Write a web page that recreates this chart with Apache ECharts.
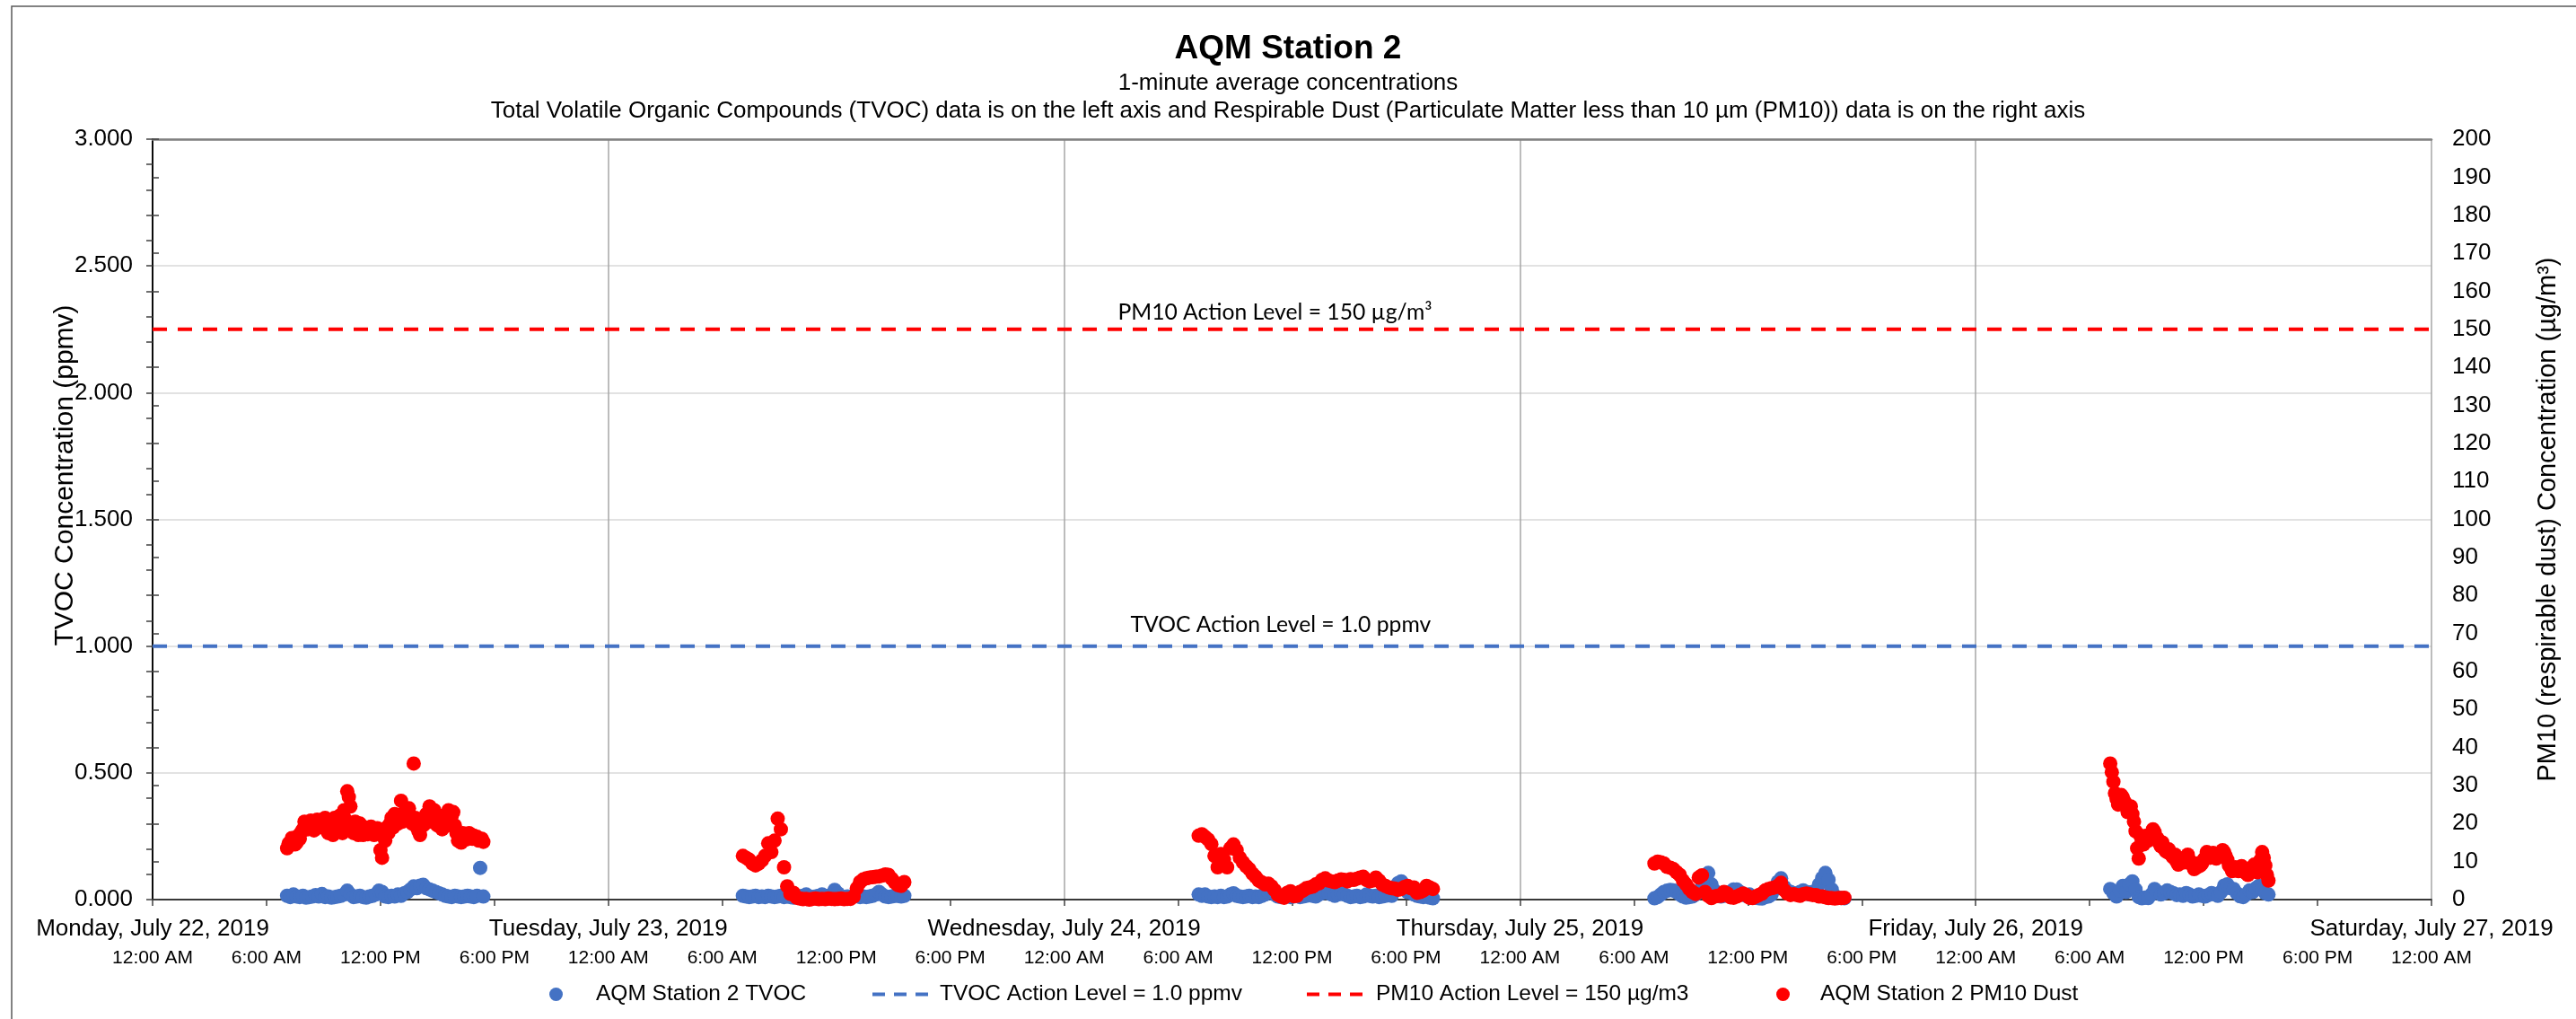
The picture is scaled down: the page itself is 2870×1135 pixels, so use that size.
<!DOCTYPE html>
<html>
<head>
<meta charset="utf-8">
<title>AQM Station 2</title>
<script src="https://cdn.jsdelivr.net/npm/echarts@6/dist/echarts.min.js"></script>
<style>
  html, body { margin: 0; padding: 0; background: #fff; }
  #main { width: 2870px; height: 1135px; }
</style>
</head>
<body>
<div id="main"></div>
<script>
  // axis labels
  var dayLabels = ['Monday, July 22, 2019', 'Tuesday, July 23, 2019', 'Wednesday, July 24, 2019',
    'Thursday, July 25, 2019', 'Friday, July 26, 2019', 'Saturday, July 27, 2019'];
  var timeLabels = ['12:00 AM', '6:00 AM', '12:00 PM', '6:00 PM'];

  // every day the station starts logging at 7:05 AM, values read every 10 minutes
  var startHour = 7 + 5 / 60;
  var stepMinutes = 10;

  // action levels
  var tvocAction = 1.0;   // ppmv, left axis
  var pm10Action = 150;   // ug/m3, right axis

  // TVOC (ppmv)
  var tvocMon = [0.015, 0.01, 0.02, 0.012, 0.01, 0.015, 0.008, 0.01, 0.012, 0.018,
    0.012, 0.022, 0.01, 0.012, 0.008, 0.01, 0.012, 0.015, 0.02, 0.035,
    0.02, 0.01, 0.012, 0.015, 0.01, 0.008, 0.012, 0.015, 0.02, 0.035,
    0.03, 0.012, 0.01, 0.015, 0.012, 0.02, 0.015, 0.025, 0.03, 0.04,
    0.052, 0.045, 0.055, 0.058, 0.045, 0.04, 0.035, 0.03, 0.025, 0.02,
    0.015, 0.012, 0.01, 0.015, 0.012, 0.01, 0.012, 0.015, 0.012, 0.01,
    0.015, 0.125, 0.012];
  var tvocTue = [0.015, 0.012, 0.01, 0.012, 0.015, 0.01, 0.012, 0.01, 0.015, 0.012,
    0.01, 0.012, 0.015, 0.01, 0.012, 0.01, 0.008, 0.01, 0.012, 0.015,
    0.02, 0.012, 0.01, 0.012, 0.015, 0.02, 0.015, 0.012, 0.02, 0.038,
    0.025, 0.012, 0.01, 0.012, 0.01, 0.012, 0.015, 0.01, 0.012, 0.01,
    0.012, 0.015, 0.02, 0.03, 0.02, 0.012, 0.01, 0.012, 0.015, 0.015,
    0.012, 0.015];
  var tvocWed = [0.02, 0.015, 0.02, 0.012, 0.01, 0.012, 0.01, 0.015, 0.01, 0.012,
    0.02, 0.025, 0.015, 0.012, 0.01, 0.012, 0.015, 0.01, 0.012, 0.01,
    0.015, 0.02, 0.03, 0.035, 0.02, 0.012, 0.01, 0.012, 0.015, 0.01,
    0.012, 0.015, 0.01, 0.012, 0.015, 0.02, 0.015, 0.012, 0.02, 0.025,
    0.03, 0.025, 0.02, 0.015, 0.02, 0.025, 0.02, 0.015, 0.01, 0.012,
    0.015, 0.01, 0.012, 0.02, 0.015, 0.012, 0.015, 0.01, 0.012, 0.015,
    0.02, 0.015, 0.04, 0.065, 0.072, 0.05, 0.03, 0.028, 0.02, 0.015,
    0.012, 0.01, 0.012, 0.008, 0.005];
  var tvocThu = [0.005, 0.01, 0.02, 0.03, 0.035, 0.038, 0.036, 0.03, 0.02, 0.012,
    0.008, 0.01, 0.012, 0.02, 0.03, 0.05, 0.08, 0.105, 0.06, 0.035,
    0.018, 0.012, 0.015, 0.02, 0.03, 0.04, 0.04, 0.03, 0.02, 0.015,
    0.02, 0.01, 0.008, 0.005, 0.004, 0.01, 0.012, 0.02, 0.04, 0.07,
    0.084, 0.05, 0.035, 0.03, 0.025, 0.02, 0.03, 0.036, 0.03, 0.02,
    0.03, 0.035, 0.06, 0.085, 0.105, 0.078, 0.04, 0.015, 0.008, 0.006,
    0.005];
  var tvocFri = [0.042, 0.025, 0.012, 0.035, 0.054, 0.03, 0.06, 0.072, 0.04, 0.01,
    0.005, 0.008, 0.006, 0.02, 0.042, 0.03, 0.02, 0.025, 0.036, 0.03,
    0.025, 0.018, 0.02, 0.015, 0.026, 0.02, 0.012, 0.015, 0.02, 0.015,
    0.012, 0.018, 0.026, 0.02, 0.015, 0.03, 0.055, 0.06, 0.045, 0.042,
    0.025, 0.013, 0.01, 0.02, 0.036, 0.03, 0.045, 0.054, 0.04, 0.025,
    0.02];

  // PM10 dust (ug/m3)
  var pm10Mon = [13.5, 14.5, 15.8, 15.0, 16.0, 18.5, 19.5, 19.8, 19.5, 20.0,
    20.2, 20.8, 21.5, 17.5, 19.0, 21.5, 18.0, 20.0, 23.5, 28.5,
    24.5, 17.5, 18.0, 20.0, 17.0, 18.5, 18.0, 18.5, 18.0, 17.5,
    11.0, 15.5, 17.5, 21.5, 22.5, 20.0, 26.0, 23.0, 22.5, 21.5,
    35.8, 19.0, 17.0, 19.5, 22.5, 24.5, 22.5, 21.0, 20.5, 18.5,
    21.0, 23.5, 22.0, 19.5, 15.5, 15.0, 17.0, 17.0, 16.5, 16.8,
    16.5, 15.8, 15.2];
  // Monday readings in between (7:10, 7:20, ...)
  var pm10MonMid = [14.8, 16.2, 14.5, 16.8, 17.8, 20.5, 18.5, 20.8, 18.2, 21.0,
    19.0, 19.5, 19.0, 20.5, 17.0, 19.5, 22.0, 17.5, 21.0, 27.0,
    19.5, 20.5, 17.0, 18.0, 19.0, 17.2, 19.2, 17.0, 18.8, 13.0,
    16.5, 19.0, 20.0, 19.0, 21.0, 22.0, 20.5, 21.0, 24.0, 20.0,
    21.5, 18.0, 20.5, 20.0, 21.0, 20.5, 23.5, 19.5, 22.0, 20.0,
    19.5, 20.5, 23.0, 17.5, 16.0, 17.5, 15.8, 17.5, 16.0, 16.0,
    15.5, 16.0];
  var pm10Tue = [11.5, 11.0, 10.5, 9.5, 9.0, 9.5, 10.3, 11.5, 14.8, 12.5,
    15.5, 21.3, 18.5, 8.5, 3.5, 1.5, 1.8, 0.5, 0.3, 0.1,
    0.2, 0.0, 0.2, 0.3, 0.1, 0.2, 0.1, 0.3, 0.2, 0.1,
    0.2, 0.3, 0.1, 0.2, 0.2, 0.8, 3.0, 4.6, 5.3, 5.6,
    5.8, 5.9, 6.0, 6.1, 6.3, 6.6, 6.5, 5.5, 4.5, 3.8,
    3.6, 4.6];
  var pm10Wed = [16.8, 17.2, 16.5, 15.8, 14.6, 11.5, 8.5, 12.0, 10.5, 8.5,
    13.5, 14.5, 13.0, 11.0, 9.8, 8.8, 8.0, 6.8, 6.0, 5.0,
    4.5, 4.0, 4.2, 3.5, 2.5, 1.3, 0.8, 0.5, 1.8, 2.2,
    0.9, 1.0, 2.0, 2.4, 3.0, 3.2, 3.4, 4.0, 4.3, 5.2,
    5.6, 5.0, 4.8, 4.6, 5.0, 5.3, 5.2, 4.8, 5.4, 5.2,
    5.5, 5.8, 6.0, 5.2, 4.8, 5.0, 5.8, 5.0, 4.0, 3.6,
    3.2, 3.0, 2.9, 2.6, 2.8, 3.3, 3.6, 3.0, 3.2, 1.8,
    2.0, 2.4, 3.6, 3.2, 2.8];
  var pm10Thu = [9.5, 10.0, 9.8, 9.5, 8.6, 8.4, 8.0, 7.2, 6.5, 5.0,
    4.0, 2.8, 2.0, 1.5, 5.8, 6.4, 2.0, 1.0, 0.4, 0.8,
    1.0, 1.0, 2.0, 1.6, 0.6, 0.5, 0.8, 1.2, 1.6, 1.2,
    0.5, 0.4, 0.8, 1.2, 1.6, 2.4, 2.8, 3.0, 3.2, 3.6,
    4.4, 2.5, 1.6, 1.2, 1.4, 1.2, 1.0, 1.4, 1.6, 1.4,
    1.2, 1.2, 0.8, 0.8, 0.6, 0.4, 0.4, 0.3, 0.4, 0.4,
    0.5];
  var pm10Fri = [35.8, 31.0, 26.5, 25.5, 26.8, 24.5, 23.5, 22.5, 18.0, 10.8,
    15.5, 16.0, 15.5, 16.5, 17.8, 16.0, 14.0, 13.5, 12.5, 12.0,
    11.0, 10.0, 9.8, 10.5, 11.2, 10.5, 9.0, 8.3, 8.8, 9.5,
    11.0, 12.0, 11.8, 11.5, 11.5, 12.3, 12.5, 10.5, 8.5, 7.8,
    8.0, 8.3, 7.8, 7.0, 7.2, 8.6, 8.0, 7.5, 12.5, 9.0,
    5.0];
  // Friday readings in between (7:10, 7:20, ...)
  var pm10FriMid = [33.5, 28.0, 25.0, 27.5, 25.8, 23.0, 24.5, 20.5, 13.5, 16.8,
    14.5, 16.8, 17.0, 18.5, 16.5, 14.8, 15.0, 12.8, 13.2, 11.5,
    11.8, 9.2, 10.8, 9.8, 11.8, 9.5, 8.0, 9.5, 9.0, 10.5,
    12.5, 11.0, 12.3, 10.8, 12.0, 13.0, 11.5, 9.0, 7.5, 8.5,
    7.5, 8.8, 7.2, 6.5, 8.0, 9.2, 7.2, 10.5, 11.0, 6.5];

  // x = hours since Monday 12:00 AM
  function toPoints(dayIndex, values, offsetMinutes) {
    var off = (offsetMinutes || 0) / 60;
    return values.map(function (v, i) {
      return [dayIndex * 24 + startHour + off + i * stepMinutes / 60, v];
    });
  }
  var tvocData = [].concat(toPoints(0, tvocMon), toPoints(1, tvocTue), toPoints(2, tvocWed),
    toPoints(3, tvocThu), toPoints(4, tvocFri));
  var pm10Data = [].concat(toPoints(0, pm10Mon), toPoints(0, pm10MonMid, 5), toPoints(1, pm10Tue),
    toPoints(2, pm10Wed), toPoints(3, pm10Thu), toPoints(4, pm10Fri), toPoints(4, pm10FriMid, 5));

  var font = 'Liberation Sans, Arial, sans-serif';
  var labelFont = 'Lato, Carlito, Calibri, sans-serif';
  var blue = '#4472C4';
  var red = '#FF0000';
  var dash = [16, 12];
  var legendText = { fontFamily: font, fontSize: 24.5, color: '#000' };

  var chart = echarts.init(document.getElementById('main'));
  chart.setOption({
    backgroundColor: '#fff',
    animation: false,
    textStyle: { fontFamily: font },
    title: {
      text: 'AQM Station 2',
      subtext: '1-minute average concentrations\nTotal Volatile Organic Compounds (TVOC) data is on the left axis and Respirable Dust (Particulate Matter less than 10 µm (PM10)) data is on the right axis',
      left: 'center',
      top: 30,
      itemGap: 2,
      textStyle: { fontFamily: font, fontSize: 37, fontWeight: 'bold', color: '#000', lineHeight: 40 },
      subtextStyle: { fontFamily: font, fontSize: 26, color: '#000', lineHeight: 31, align: 'center' }
    },
    grid: { left: 170, right: 161, top: 155, bottom: 133 },
    // one legend per entry so each sits where Excel put it
    legend: [
      { left: 607, top: 1090, itemWidth: 15, itemHeight: 15,
        textStyle: Object.assign({ padding: [0, 0, 0, 32] }, legendText),
        data: [{ name: 'AQM Station 2 TVOC', icon: 'circle' }] },
      { left: 965, top: 1090, itemWidth: 70, itemHeight: 15,
        textStyle: legendText,
        lineStyle: { width: 4, type: [14, 10] },
        data: [{ name: 'TVOC Action Level = 1.0 ppmv', itemStyle: { opacity: 0 } }] },
      { left: 1449, top: 1090, itemWidth: 72, itemHeight: 15,
        textStyle: legendText,
        lineStyle: { width: 4, type: [14, 10] },
        data: [{ name: 'PM10 Action Level = 150 µg/m3', itemStyle: { opacity: 0 } }] },
      { left: 1974, top: 1090, itemWidth: 15, itemHeight: 15,
        textStyle: Object.assign({ padding: [0, 0, 0, 29] }, legendText),
        data: [{ name: 'AQM Station 2 PM10 Dust', icon: 'circle' }] }
    ],
    xAxis: [
      { // time of day ticks
        type: 'value', min: 0, max: 120, interval: 6, position: 'bottom', offset: 0,
        axisLine: { onZero: false, lineStyle: { color: '#000', width: 1.5 } },
        axisTick: { length: 7, lineStyle: { color: '#404040', width: 1.5 } },
        axisLabel: {
          margin: 55, fontSize: 21, color: '#000', fontFamily: font,
          showMinLabel: true, showMaxLabel: true,
          formatter: function (v) { return timeLabels[Math.round(v / 6) % 4]; }
        },
        splitLine: { show: false }
      },
      { // days, with a gridline at every midnight
        type: 'value', min: 0, max: 120, interval: 24, position: 'bottom', offset: 0,
        axisLine: { show: false },
        axisTick: { show: false },
        axisLabel: {
          margin: 20, fontSize: 26, color: '#000', fontFamily: font,
          showMinLabel: true, showMaxLabel: true,
          formatter: function (v) { return dayLabels[Math.round(v / 24)]; }
        },
        splitLine: { show: true, lineStyle: { color: '#A6A6A6', width: 1.5 } }
      },
      { // top edge of plot area
        type: 'value', min: 0, max: 120, position: 'top',
        axisLine: { show: true, onZero: false, lineStyle: { color: '#808080', width: 2.5 } },
        axisTick: { show: false }, axisLabel: { show: false }, splitLine: { show: false }
      }
    ],
    yAxis: [
      {
        type: 'value', min: 0, max: 3, interval: 0.5, position: 'left',
        name: 'TVOC Concentration (ppmv)', nameLocation: 'middle', nameGap: 82, nameRotate: 90,
        nameMoveOverlap: false,
        nameTextStyle: { fontSize: 30, color: '#000', fontFamily: font, padding: [0, 0, 0, 98] },
        axisLine: { show: true, lineStyle: { color: '#000', width: 1.5 } },
        axisTick: { show: true, length: 7, lineStyle: { color: '#404040', width: 1.5 } },
        minorTick: { show: true, splitNumber: 5, length: 7, lineStyle: { color: '#404040', width: 1.5 } },
        axisLabel: { margin: 22, fontSize: 26, color: '#000', fontFamily: font,
          formatter: function (v) { return v.toFixed(3); } },
        splitLine: { show: true, lineStyle: { color: '#D9D9D9', width: 1.5 } }
      },
      {
        type: 'value', min: 0, max: 200, interval: 10, position: 'right',
        name: 'PM10 (respirable dust) Concentration (µg/m³)', nameLocation: 'middle', nameGap: 115, nameRotate: 90,
        nameMoveOverlap: false,
        nameTextStyle: { fontSize: 29, color: '#000', fontFamily: font },
        axisLine: { show: true, lineStyle: { color: '#000', width: 1.5 } },
        axisTick: { show: true, length: 7, lineStyle: { color: '#404040', width: 1.5 } },
        axisLabel: { margin: 23, fontSize: 26, color: '#000', fontFamily: font },
        splitLine: { show: false }
      }
    ],
    series: [
      {
        name: 'AQM Station 2 TVOC',
        type: 'scatter',
        xAxisIndex: 0, yAxisIndex: 0,
        symbolSize: 16,
        itemStyle: { color: blue, opacity: 1 },
        data: tvocData,
        z: 3
      },
      {
        name: 'TVOC Action Level = 1.0 ppmv',
        type: 'line',
        xAxisIndex: 0, yAxisIndex: 0,
        symbol: 'none',
        itemStyle: { color: blue },
        lineStyle: { color: blue, width: 4, type: dash },
        data: [[0, tvocAction], [120, tvocAction]],
        z: 2
      },
      {
        name: 'PM10 Action Level = 150 µg/m3',
        type: 'line',
        xAxisIndex: 0, yAxisIndex: 1,
        symbol: 'none',
        itemStyle: { color: red },
        lineStyle: { color: red, width: 4, type: dash },
        data: [[0, pm10Action], [120, pm10Action]],
        z: 2
      },
      {
        name: 'AQM Station 2 PM10 Dust',
        type: 'scatter',
        xAxisIndex: 0, yAxisIndex: 1,
        symbolSize: 16,
        itemStyle: { color: red, opacity: 1 },
        data: pm10Data,
        z: 4
      }
    ]
  });

  // chart border and the captions above the two action lines, placed through the axes
  var tvocPos = chart.convertToPixel({ xAxisIndex: 0, yAxisIndex: 0 }, [59.4, tvocAction]);
  var pm10Pos = chart.convertToPixel({ xAxisIndex: 0, yAxisIndex: 1 }, [59.1, pm10Action]);
  chart.setOption({
    graphic: [
      {
        type: 'rect', silent: true,
        shape: { x: 13, y: 7, width: 2900, height: 1200 },
        style: { fill: 'none', stroke: '#595959', lineWidth: 1.5 }
      },
      {
        type: 'text', silent: true, z: 10,
        x: tvocPos[0], y: tvocPos[1] - 24,
        style: { text: 'TVOC Action Level = 1.0 ppmv', align: 'center', verticalAlign: 'middle',
          font: '24.7px ' + labelFont, fill: '#000' }
      },
      {
        type: 'text', silent: true, z: 10,
        x: pm10Pos[0], y: pm10Pos[1] - 19,
        style: { text: 'PM10 Action Level = 150 µg/m³', align: 'center', verticalAlign: 'middle',
          font: '24.7px ' + labelFont, fill: '#000' }
      }
    ]
  });
</script>
</body>
</html>
